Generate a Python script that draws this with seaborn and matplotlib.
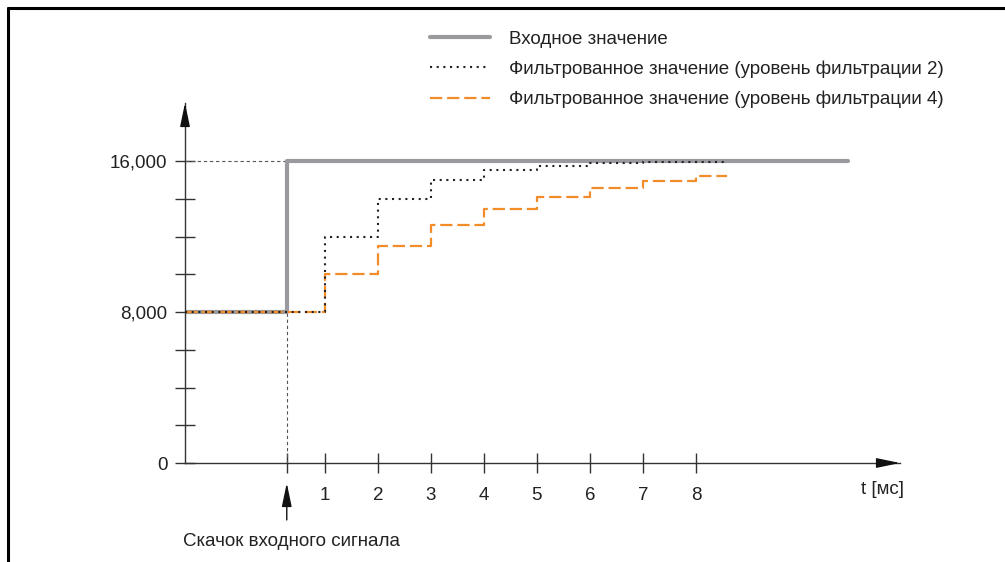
import numpy as np
import pandas as pd
import matplotlib
matplotlib.use("Agg")
import matplotlib.pyplot as plt
from matplotlib.lines import Line2D
from matplotlib.ticker import FixedLocator
import seaborn as sns

# ---- data -------------------------------------------------------------
t_axis_start = -1.64          # time at the vertical axis
t_jump = 0.28                 # moment of the input step [ms]
t_input_end = 10.87
t_filtered_end = 8.58

input_t = [t_axis_start, t_jump, t_input_end]
input_val = [8000, 16000, 16000]

filter_t = [t_axis_start, 1, 2, 3, 4, 5, 6, 7, 8, t_filtered_end]
filter2_val = [8000, 12000, 14000, 15000, 15500, 15750, 15875, 15937.5, 15968.75, 15968.75]
filter4_val = [8000, 10000, 11500, 12625, 13469, 14102, 14576, 14932, 15199, 15199]

x_ticks = [1, 2, 3, 4, 5, 6, 7, 8]
y_major = [0, 8000, 16000]
y_minor = [2000, 4000, 6000, 10000, 12000, 14000]
y_labels = ["0", "8,000", "16,000"]

labels = ["Входное значение",
          "Фильтрованное значение (уровень фильтрации 2)",
          "Фильтрованное значение (уровень фильтрации 4)"]
x_title = "t [мс]"
jump_caption = "Скачок входного сигнала"

# ---- style ------------------------------------------------------------
sns.set_theme(style="white")
plt.rcParams["font.family"] = ["Liberation Sans", "DejaVu Sans"]
FS = 13.5
GRAY = "#9a9a9e"
ORANGE = "#f28c28"
AX_COLOR = "#333333"

W, H = 1005, 562
fig = plt.figure(figsize=(W / 100, H / 100), dpi=100)
fig.patch.set_facecolor("white")

# axes placed so that the spines sit where the diagram needs them
left_px, right_px, bottom_px, top_px = 185, 900, 463, 103
ax = fig.add_axes([left_px / W, 1 - bottom_px / H,
                   (right_px - left_px) / W, (bottom_px - top_px) / H])
ax.set_facecolor("white")
ax.set_xlim(t_axis_start, 11.85)
ax.set_ylim(0, 19073)

df_in = pd.DataFrame({"t": input_t, "v": input_val})
df_f2 = pd.DataFrame({"t": filter_t, "v": filter2_val})
df_f4 = pd.DataFrame({"t": filter_t, "v": filter4_val})

sns.lineplot(data=df_in, x="t", y="v", ax=ax, color=GRAY, linewidth=3.0,
             drawstyle="steps-post", label=labels[0], zorder=2)
sns.lineplot(data=df_f4, x="t", y="v", ax=ax, color=ORANGE, linewidth=1.6,
             linestyle=(0, (5.5, 2.2)), drawstyle="steps-post", label=labels[2], zorder=3)
sns.lineplot(data=df_f2, x="t", y="v", ax=ax, color="#222222", linewidth=1.5,
             linestyle=(0, (1, 2.2)), drawstyle="steps-post", label=labels[1], zorder=4)

# thin guide lines at the step
ax.plot([t_axis_start, t_jump], [16000, 16000], color="#555555", lw=0.8,
        linestyle=(0, (3, 2.5)), zorder=1)
ax.plot([t_jump, t_jump], [0, 8000], color="#555555", lw=0.8,
        linestyle=(0, (3, 2.5)), zorder=1)

# spines
for s in ["top", "right"]:
    ax.spines[s].set_visible(False)
for s in ["left", "bottom"]:
    ax.spines[s].set_color(AX_COLOR)
    ax.spines[s].set_linewidth(1.0)

# ticks
ax.set_xticks([t_jump] + x_ticks)
ax.set_xticklabels([""] + [str(v) for v in x_ticks], fontsize=FS, color="#222222")
ax.set_yticks(y_major)
ax.set_yticklabels(y_labels, fontsize=FS, color="#222222")
ax.yaxis.set_minor_locator(FixedLocator(y_minor))
ax.tick_params(axis="both", which="both", direction="inout", length=15,
               width=1.0, color=AX_COLOR, bottom=True, left=True)
ax.tick_params(axis="x", which="major", pad=9.5)
ax.tick_params(axis="y", which="major", pad=5.2)
ax.tick_params(axis="x", which="minor", length=0)
ax.set_xlabel("")
ax.set_ylabel("")

# arrow heads on the axes
arrow_style = dict(arrowstyle="-|>,head_length=1.2,head_width=0.25",
                   color="#111111", lw=1.0, shrinkA=0, shrinkB=0,
                   mutation_scale=12)
ax.annotate("", xy=(1, 0), xycoords="axes fraction", xytext=(-16, 0),
            textcoords="offset points", arrowprops=arrow_style,
            annotation_clip=False)
ax.annotate("", xy=(0, 1), xycoords="axes fraction", xytext=(0, -16),
            textcoords="offset points", arrowprops=arrow_style,
            annotation_clip=False)

# arrow marking the input step
ax.annotate("", xy=(t_jump, 0), xycoords="data", xytext=(0, -41),
            textcoords="offset points",
            arrowprops=dict(arrow_style, shrinkB=14.4),
            annotation_clip=False)

fig.text(183 / W, 1 - 541 / H, jump_caption, fontsize=FS, color="#222222",
         ha="left", va="center")
fig.text(882 / W, 1 - 490 / H, x_title, fontsize=FS, color="#222222",
         ha="center", va="center")

# legend
handles, lbls = ax.get_legend_handles_labels()
order = [lbls.index(l) for l in labels]
ax.legend([handles[i] for i in order], [lbls[i] for i in order],
          loc="upper left", bbox_to_anchor=(430 / W, 1 - 30.5 / H),
          bbox_transform=fig.transFigure, frameon=False, fontsize=FS,
          borderpad=0, borderaxespad=0, handlelength=3.2, handletextpad=1.0,
          labelspacing=0.68, labelcolor="#222222")

# frame lines along the top and left edges
fig.add_artist(Line2D([8 / W, 8 / W], [1 - 8 / H, 0], color="black", lw=2.2,
                      transform=fig.transFigure))
fig.add_artist(Line2D([8 / W, 1], [1 - 8 / H, 1 - 8 / H], color="black", lw=2.2,
                      transform=fig.transFigure))

fig.savefig("out.png", dpi=100, facecolor="white")
